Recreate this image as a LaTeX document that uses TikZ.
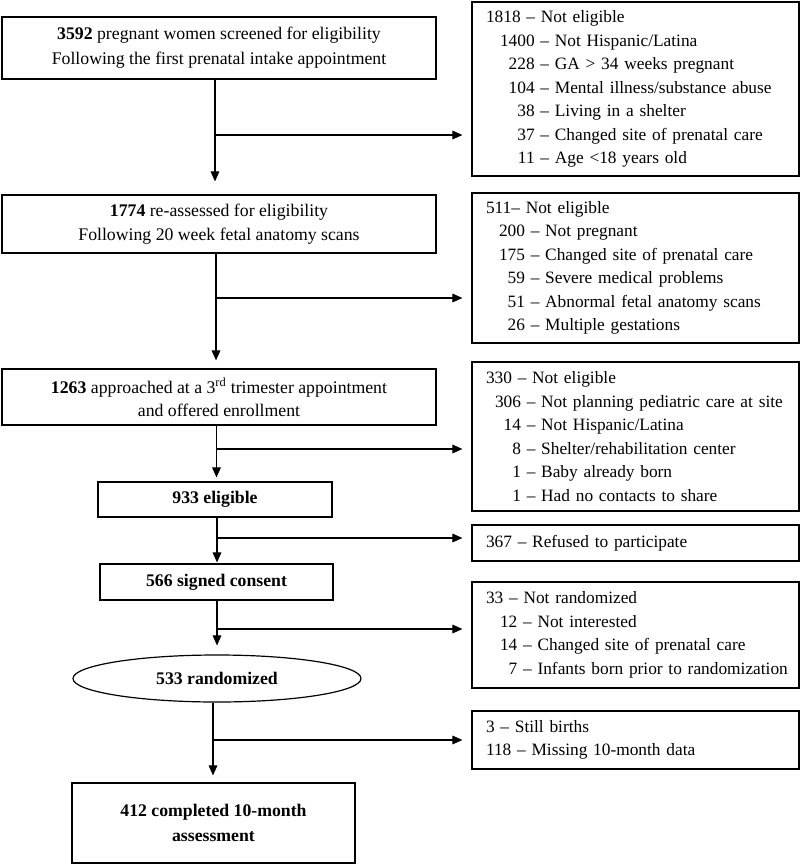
\documentclass[tikz,border=0pt]{standalone}
\usepackage{fontspec}
\setmainfont{Liberation Serif}
\usetikzlibrary{arrows.meta,shapes.geometric}
\newcommand\ritem[3]{\mbox{\makebox[#1][r]{#2} – #3}}
\newcommand\rline[1]{\mbox{#1}}
\begin{document}
\begin{tikzpicture}[x=0.75pt,y=-0.75pt,
  box/.style={draw,line width=0.9pt,rectangle,inner sep=0pt,align=center,font=\fontsize{13.3pt}{18.5pt}\selectfont},
  side/.style={draw,line width=0.9pt,rectangle,text width={299*0.75pt},inner xsep={14*0.75pt},inner ysep=0pt,align=left,font=\fontsize{13pt}{17.6pt}\selectfont},
  oval/.style={draw,line width=0.9pt,ellipse,inner sep=0pt,font=\fontsize{13.3pt}{18pt}\selectfont\bfseries},
  arr/.style={line width=0.8pt,-{Triangle[length=7.5pt,width=6.5pt]}},
  ln/.style={line width=0.8pt}]
\useasboundingbox (0,0) rectangle (800,864);

% main column
\node[box,minimum width={434*0.75pt},minimum height={62*0.75pt}] (b1) at (219,48)
  {\textbf{3592} pregnant women screened for eligibility\\Following the first prenatal intake appointment};
\node[box,font=\fontsize{13.3pt}{17.5pt}\selectfont,minimum width={434*0.75pt},minimum height={58*0.75pt}] (b2) at (219,224)
  {\textbf{1774} re-assessed for eligibility\\Following 20 week fetal anatomy scans};
\node[box,font=\fontsize{13.3pt}{17.5pt}\selectfont,minimum width={434*0.75pt},minimum height={56*0.75pt}] (b3) at (219,397)
  {\textbf{1263} approached at a 3\textsuperscript{rd} trimester appointment\\and offered enrollment};
\node[box,font=\fontsize{13.3pt}{18pt}\selectfont\bfseries,minimum width={234*0.75pt},minimum height={35*0.75pt}] (b4) at (215,499.5)
  {933 eligible};
\node[box,font=\fontsize{13.3pt}{18pt}\selectfont\bfseries,minimum width={233*0.75pt},minimum height={36*0.75pt}] (b5) at (216.5,582)
  {566 signed consent};
\node[oval,minimum width={288*0.75pt},minimum height={47*0.75pt}] (b6) at (217,678.5)
  {533 randomized};
\node[box,font=\fontsize{13.3pt}{18.75pt}\selectfont\bfseries,minimum width={283*0.75pt},minimum height={80*0.75pt}] (b7) at (213.5,823)
  {412 completed 10-month\\assessment};

% side boxes
\node[side,minimum height={174*0.75pt}] (r1) at (635.5,89)
  {\rline{1818 – Not eligible}\\
   \ritem{36.5pt}{1400}{Not Hispanic/Latina}\\
   \ritem{36.5pt}{228}{GA > 34 weeks pregnant}\\
   \ritem{36.5pt}{104}{Mental illness/substance abuse}\\
   \ritem{36.5pt}{38}{Living in a shelter}\\
   \ritem{36.5pt}{37}{Changed site of prenatal care}\\
   \ritem{36.5pt}{11}{Age <18 years old}};
\node[side,minimum height={150*0.75pt}] (r2) at (635.5,268)
  {\rline{511– Not eligible}\\
   \ritem{29.25pt}{200}{Not pregnant}\\
   \ritem{29.25pt}{175}{Changed site of prenatal care}\\
   \ritem{29.25pt}{59}{Severe medical problems}\\
   \ritem{29.25pt}{51}{Abnormal fetal anatomy scans}\\
   \ritem{29.25pt}{26}{Multiple gestations}};
\node[side,minimum height={149*0.75pt}] (r3) at (635.5,436.5)
  {\rline{330 – Not eligible}\\
   \ritem{26.25pt}{306}{Not planning pediatric care at site}\\
   \ritem{26.25pt}{14}{Not Hispanic/Latina}\\
   \ritem{26.25pt}{8}{Shelter/rehabilitation center}\\
   \ritem{26.25pt}{1}{Baby already born}\\
   \ritem{26.25pt}{1}{Had no contacts to share}};
\node[side,minimum height={36*0.75pt}] (r4) at (635.5,543)
  {\rline{367 – Refused to participate}};
\node[side,minimum height={106*0.75pt}] (r5) at (635.5,635)
  {\rline{33 – Not randomized}\\
   \ritem{23.5pt}{12}{Not interested}\\
   \ritem{23.5pt}{14}{Changed site of prenatal care}\\
   \ritem{23.5pt}{7}{Infants born prior to randomization}};
\node[side,minimum height={58*0.75pt}] (r6) at (635.5,740)
  {\rline{3 – Still births}\\
   \rline{118 – Missing 10-month data}};

% junctions
\coordinate (j1) at (215,135);
\coordinate (j2) at (216,298);
\coordinate (j3) at (216.5,449);
\coordinate (j4) at (217,538);
\coordinate (j5) at (217,629);
\coordinate (j6) at (213,740);

% vertical connectors
\draw[arr,shorten >={13*0.75pt}] (b1.south -| j1) -- (b2.north -| j1);
\draw[arr,shorten >={8*0.75pt}] (b2.south -| j2) -- (b3.north -| j2);
\draw[arr,shorten >={4*0.75pt}] (b3.south -| j3) -- (b4.north -| j3);
\draw[arr,shorten >={1*0.75pt}] (b4.south -| j4) -- (b5.north -| j4);
\draw[arr,shorten >={9*0.75pt}] (b5.south -| j5) -- (b6.north -| j5);
\draw[arr,shorten >={7*0.75pt}] (b6.south -| j6) -- (b7.north -| j6);

% horizontal connectors
\draw[arr,shorten >={9*0.75pt}] (j1) -- (j1 -| r1.west);
\draw[arr,shorten >={9*0.75pt}] (j2) -- (j2 -| r2.west);
\draw[arr,shorten >={9*0.75pt}] (j3) -- (j3 -| r3.west);
\draw[arr,shorten >={9*0.75pt}] (j4) -- (j4 -| r4.west);
\draw[arr,shorten >={9*0.75pt}] (j5) -- (j5 -| r5.west);
\draw[arr,shorten >={9*0.75pt}] (j6) -- (j6 -| r6.west);
\end{tikzpicture}
\end{document}
